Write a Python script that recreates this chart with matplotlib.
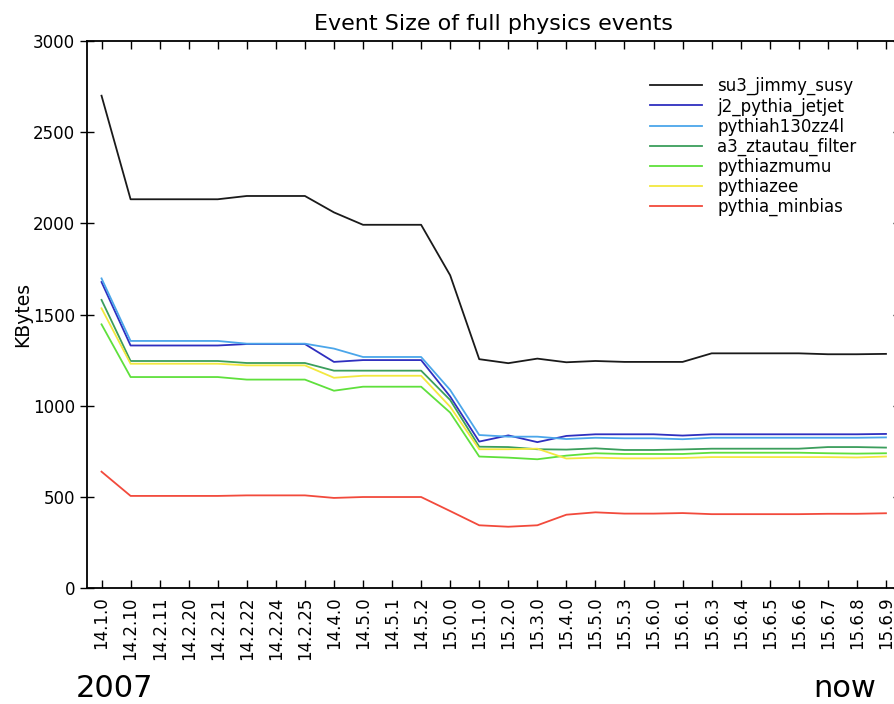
import matplotlib
matplotlib.use("Agg")
import matplotlib.pyplot as plt
import numpy as np

releases = ["14.1.0", "14.2.10", "14.2.11", "14.2.20", "14.2.21", "14.2.22", "14.2.24",
            "14.2.25", "14.4.0", "14.5.0", "14.5.1", "14.5.2", "15.0.0", "15.1.0",
            "15.2.0", "15.3.0", "15.4.0", "15.5.0", "15.5.3", "15.6.0", "15.6.1",
            "15.6.3", "15.6.4", "15.6.5", "15.6.6", "15.6.7", "15.6.8", "15.6.9"]

su3_jimmy_susy = [2700, 2132, 2132, 2132, 2132, 2150, 2150, 2150, 2060, 1992, 1992, 1992,
                  1715, 1255, 1233, 1258, 1238, 1245, 1240, 1240, 1240, 1287, 1287, 1287,
                  1287, 1282, 1282, 1284]
j2_pythia_jetjet = [1678, 1330, 1330, 1330, 1330, 1338, 1338, 1338, 1240, 1250, 1250, 1250,
                    1050, 803, 837, 800, 834, 843, 843, 843, 836, 843, 843, 843,
                    843, 843, 843, 845]
pythiah130zz4l = [1698, 1355, 1355, 1355, 1355, 1340, 1340, 1340, 1313, 1267, 1267, 1267,
                  1086, 839, 830, 830, 817, 824, 821, 821, 816, 824, 824, 824,
                  824, 824, 824, 826]
a3_ztautau_filter = [1580, 1245, 1245, 1245, 1245, 1234, 1234, 1234, 1192, 1192, 1192, 1192,
                     1031, 775, 773, 761, 759, 766, 757, 757, 760, 764, 764, 764,
                     764, 773, 773, 770]
pythiazmumu = [1446, 1157, 1157, 1157, 1157, 1143, 1143, 1143, 1082, 1104, 1104, 1104,
               962, 721, 715, 706, 726, 739, 735, 735, 735, 742, 742, 742,
               742, 739, 737, 739]
pythiazee = [1534, 1230, 1230, 1230, 1230, 1221, 1221, 1221, 1153, 1164, 1164, 1164,
             994, 761, 761, 764, 710, 715, 711, 711, 713, 718, 718, 718,
             718, 718, 716, 721]
pythia_minbias = [638, 505, 505, 505, 505, 508, 508, 508, 494, 499, 499, 499,
                  422, 344, 336, 344, 402, 415, 408, 408, 411, 405, 405, 405,
                  405, 407, 407, 410]

series = [
    ("su3_jimmy_susy", su3_jimmy_susy, "#1a1a1a"),
    ("j2_pythia_jetjet", j2_pythia_jetjet, "#2f2fbf"),
    ("pythiah130zz4l", pythiah130zz4l, "#4ba6ea"),
    ("a3_ztautau_filter", a3_ztautau_filter, "#3b9e5c"),
    ("pythiazmumu", pythiazmumu, "#5fe03c"),
    ("pythiazee", pythiazee, "#f2e83f"),
    ("pythia_minbias", pythia_minbias, "#f24a3c"),
]

W, H = 894, 704
fig = plt.figure(figsize=(W / 100, H / 100), dpi=100)
ax = fig.add_axes([87 / W, (H - 588) / H, (900.5 - 87) / W, 547 / H])

x = np.arange(len(releases))
for name, vals, col in series:
    ax.plot(x, vals, color=col, lw=1.3, label=name)

ax.set_xlim(-0.5, len(releases) - 0.5)
ax.set_ylim(0, 3000)
ax.set_yticks(np.arange(0, 3001, 500))
ax.set_xticks(x)
ax.set_xticklabels(releases, rotation=90, fontsize=12)
ax.tick_params(axis="y", labelsize=12, direction="inout", length=10, width=1, right=True)
ax.tick_params(axis="x", direction="in", length=6, width=1, top=True, pad=6)
for s in ax.spines.values():
    s.set_linewidth(1.3)

ax.set_ylabel("KBytes", fontsize=13.5, labelpad=1)
ax.set_title("Event Size of full physics events", fontsize=16, pad=8)

ax.legend(loc="upper left", bbox_to_anchor=((650 - 87) / 813.5, (588 - 77) / 547),
          frameon=False, fontsize=12, borderpad=0, borderaxespad=0,
          handlelength=3.1, handletextpad=0.95, labelspacing=0.12)

fig.text(76 / W, (H - 697) / H, "2007", fontsize=22, ha="left", va="baseline")
fig.text(876 / W, (H - 697) / H, "now", fontsize=22, ha="right", va="baseline")

fig.savefig("out.png", dpi=100)
